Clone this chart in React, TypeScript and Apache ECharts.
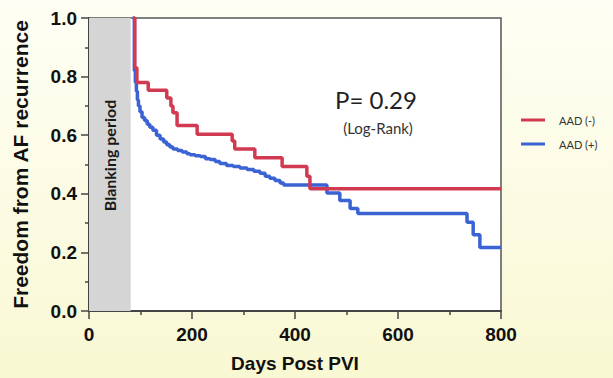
import React, { useEffect, useRef } from "react";
import * as echarts from "echarts";

// Kaplan-Meier curves (day of step, survival after step)
const seriesNames = ["AAD (-)", "AAD (+)"];
const redDays = [85, 89, 93, 115, 151, 159, 163, 171, 210, 278, 283, 322, 375, 423, 429, 800];
const redSurv = [1.0, 0.83, 0.78, 0.753, 0.727, 0.7, 0.677, 0.633, 0.603, 0.58, 0.553, 0.523, 0.493, 0.46, 0.417, 0.417];

const blueDays = [85, 88, 90, 92, 94, 96, 99, 103, 108, 113, 118, 124, 131, 138, 145, 151, 157, 163, 172, 181, 190, 196, 206, 216, 226, 235, 245, 254, 267, 280, 293, 307, 320, 332, 342, 351, 361, 371, 378, 462, 487, 507, 522, 734, 746, 759, 800];
const blueSurv = [1.0, 0.82, 0.78, 0.75, 0.72, 0.7, 0.68, 0.66, 0.65, 0.637, 0.627, 0.617, 0.6, 0.587, 0.577, 0.567, 0.56, 0.553, 0.548, 0.543, 0.537, 0.533, 0.53, 0.527, 0.52, 0.517, 0.51, 0.503, 0.497, 0.493, 0.488, 0.483, 0.477, 0.47, 0.46, 0.453, 0.445, 0.437, 0.43, 0.403, 0.377, 0.35, 0.333, 0.303, 0.26, 0.217, 0.217];

const blankingEnd = 81;
const xMin = 0, xMax = 800, xInterval = 200;
const yMin = 0, yMax = 1, yInterval = 0.2;
const pText = "P= 0.29";
const testText = "(Log-Rank)";

export default function App() {
  const ref = useRef<HTMLDivElement>(null);
  useEffect(() => {
    document.body.style.margin = "0";
    const chart = echarts.init(ref.current!, null, { renderer: "svg" });
    const red = redDays.map((d, i) => [d, redSurv[i]]);
    const blue = blueDays.map((d, i) => [d, blueSurv[i]]);
    const axisFont = "Liberation Sans";
    chart.setOption({
      animation: false,
      backgroundColor: "transparent",
      grid: {
        left: 89, right: 112, top: 18, bottom: 60,
        show: true, backgroundColor: "#ffffff", borderColor: "#555", borderWidth: 1.5,
      },
      legend: {
        orient: "vertical", left: 516, top: 108,
        itemWidth: 24, itemHeight: 3, itemGap: 10, icon: "rect",
        data: seriesNames,
        textStyle: { fontFamily: "Lato", fontSize: 11, color: "#333", lineHeight: 14, padding: [0, 0, 0, 9] },
      },
      xAxis: {
        type: "value", min: xMin, max: xMax, interval: xInterval,
        name: "Days Post PVI", nameLocation: "middle", nameGap: 43,
        nameTextStyle: { fontFamily: axisFont, fontWeight: "bold", fontSize: 19, color: "#111" },
        axisLine: { show: true, lineStyle: { color: "#444", width: 2 } },
        axisTick: { show: true, length: 8, lineStyle: { color: "#444", width: 1.5 } },
        minorTick: { show: true, splitNumber: 2, length: 4, lineStyle: { color: "#444", width: 1.5 } },
        splitLine: { show: false },
        axisLabel: { fontFamily: axisFont, fontWeight: "bold", fontSize: 19, color: "#111", margin: 14 },
      },
      yAxis: {
        type: "value", min: yMin, max: yMax, interval: yInterval,
        name: "Freedom from AF recurrence", nameLocation: "middle", nameGap: 58,
        nameTextStyle: { fontFamily: axisFont, fontWeight: "bold", fontSize: 21, color: "#111" },
        axisLine: { show: true, lineStyle: { color: "#444", width: 2 } },
        axisTick: { show: true, length: 8, lineStyle: { color: "#444", width: 1.5 } },
        minorTick: { show: true, splitNumber: 2, length: 4, lineStyle: { color: "#444", width: 1.5 } },
        splitLine: { show: false },
        axisLabel: {
          fontFamily: axisFont, fontWeight: "bold", fontSize: 19, color: "#111", margin: 12,
          formatter: (v: number) => v.toFixed(1),
        },
      },
      series: [
        {
          name: seriesNames[1], type: "line", step: "end", symbol: "none", data: blue,
          lineStyle: { color: "#3b63d4", width: 3.5 }, itemStyle: { color: "#3b63d4" },
          markArea: {
            silent: true,
            itemStyle: { color: "#d5d5d5" },
            label: {
              show: true, position: "inside", rotate: 90, offset: [9, 0], formatter: "Blanking period",
              fontFamily: "Lato", fontWeight: "bold", fontSize: 16, color: "#1a1a1a",
            },
            data: [[{ xAxis: xMin, yAxis: yMin }, { xAxis: blankingEnd, yAxis: yMax }]],
          },
        },
        {
          name: seriesNames[0], type: "line", step: "end", symbol: "none", data: red,
          lineStyle: { color: "#d23a52", width: 3.5 }, itemStyle: { color: "#d23a52" },
        },
      ],
      graphic: [
        { type: "text", x: 376, y: 99, style: { text: pText, font: "24px Lato", fill: "#222", textAlign: "center", textVerticalAlign: "middle" } },
        { type: "text", x: 378, y: 128, style: { text: testText, font: "15px Lato", fill: "#333", textAlign: "center", textVerticalAlign: "middle" } },
      ],
    });
    return () => chart.dispose();
  }, []);
  return (
    <div
      style={{
        position: "absolute", left: 0, top: 0, width: 613, height: 378,
        background: "linear-gradient(to bottom, #fefef4 0%, #fbfbe2 60%, #f8f8d2 100%)",
      }}
    >
      <div ref={ref} style={{ width: 613, height: 378 }} />
    </div>
  );
}
